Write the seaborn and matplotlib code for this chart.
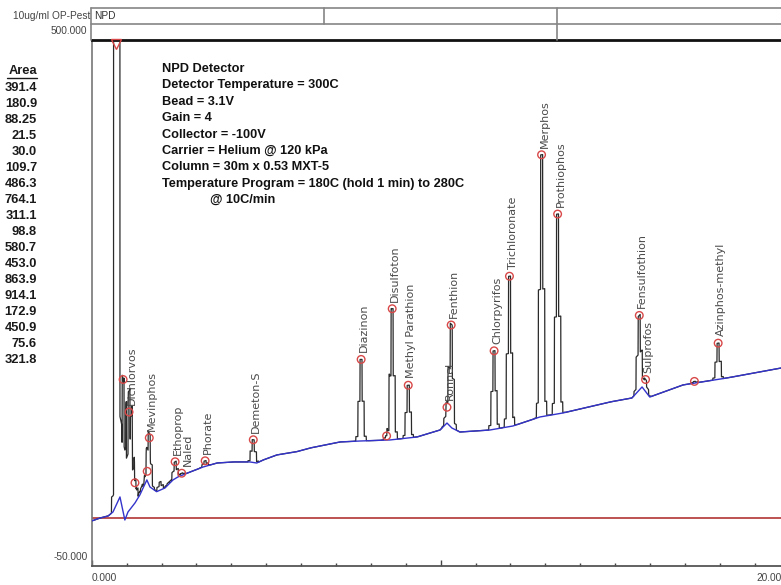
import numpy as np
import matplotlib
matplotlib.use("Agg")
import matplotlib.pyplot as plt
import matplotlib.transforms as mtransforms
import seaborn as sns
from matplotlib.lines import Line2D

# ---------------- data ----------------
# Identified compounds: retention time (min) and apex response
peak_names = ["Dichlorvos", "Mevinphos", "Ethoprop", "Naled", "Phorate", "Demeton-S",
              "Diazinon", "Disulfoton", "Methyl Parathion", "Ronnel", "Fenthion",
              "Chlorpyrifos", "Trichloronate", "Merphos", "Prothiophos",
              "Fensulfothion", "Sulprofos", "Azinphos-methyl"]
peak_times = [1.07, 1.65, 2.39, 2.58, 3.25, 4.63, 7.72, 8.61, 9.07, 10.18, 10.30,
              11.53, 11.97, 12.89, 13.35, 15.69, 15.87, 17.95]
peak_apex = [111, 84, 59, 47, 60, 82, 166, 219, 139, 116, 202,
             175, 253, 380, 318, 212, 145, 183]
peak_areas = ["391.4", "180.9", "88.25", "21.5", "30.0", "109.7", "486.3", "764.1",
              "311.1", "98.8", "580.7", "453.0", "863.9", "914.1", "172.9",
              "450.9", "75.6", "321.8"]

# Integrated but unnamed peaks
extra_times = [0.90, 1.24, 1.59, 8.45, 17.27]
extra_apex = [145, 37, 49, 86, 143]

# Small unintegrated spikes near the start
minor_times = [1.14, 1.43, 1.96, 2.19]
minor_apex = [56, 33, 38, 37]

# Solvent front (off scale)
solvent_time = 0.72
solvent_height = 6000

# Drawn baseline (time, response)
base_t = [0.00, 0.24, 0.47, 0.61, 0.81, 0.95, 1.04, 1.24, 1.38, 1.58, 1.67, 1.86,
          2.10, 2.33, 2.47, 2.82, 3.19, 3.59, 4.05, 4.53, 4.73, 4.91, 5.30, 5.87,
          6.26, 7.11, 7.69, 8.55, 9.32, 9.98, 10.18, 10.32, 10.55, 11.41, 12.07,
          12.84, 13.50, 14.85, 15.48, 15.77, 15.99, 16.94, 18.20, 19.75]
base_v = [-2.9, 0.2, 2.3, 6.5, 22.2, -1.9, 6.5, 15.9, 24.3, 40.0, 32.6, 27.7,
          31.6, 40.0, 43.1, 48.3, 53.5, 57.7, 58.8, 58.8, 57.7, 60.8, 66.1, 69.5,
          73.4, 79.7, 80.7, 81.8, 84.9, 92.2, 99.5, 94.3, 90.1, 92.2, 96.4,
          105.8, 110.0, 121.5, 125.7, 137.2, 126.7, 139.3, 146.6, 157.0]

info_lines = ["NPD Detector", "Detector Temperature = 300C", "Bead = 3.1V", "Gain = 4",
              "Collector = -100V", "Carrier = Helium @ 120 kPa",
              "Column = 30m x 0.53 MXT-5",
              "Temperature Program = 180C (hold 1 min) to 280C", "@ 10C/min"]

x_tick_labels = ["0.000", "", "20.00"]
y_range_labels = ["500.000", "-50.000"]

# ---------------- build the trace ----------------
W, H = 781, 585
STEP = 0.06      # detector sampling interval (min)
SIGMA = 0.05     # peak width (min)

t = np.arange(0.0, 19.75 + 1e-9, 0.005)
baseline = np.interp(t, base_t, base_v)
signal = baseline.copy()


def add_peak(sig, t0, amp, sigma=SIGMA):
    k = np.round((t - t0) / STEP) * STEP
    return sig + amp * np.exp(-0.5 * (k / sigma) ** 2)


for t0, ap in zip(peak_times + extra_times + minor_times,
                  peak_apex + extra_apex + minor_apex):
    signal = add_peak(signal, t0, ap - np.interp(t0, base_t, base_v))
signal = add_peak(signal, solvent_time, solvent_height, sigma=0.035)

# ---------------- figure ----------------
sns.set_theme(style="white")
plt.rcParams["font.family"] = ["Liberation Sans", "DejaVu Sans"]

fig = plt.figure(figsize=(W / 100, H / 100), dpi=100)
ax = fig.add_axes([91.7 / W, 19 / H, 698 / W, 526 / H])

ax.axhline(0, color="#b84444", lw=1.3, zorder=1)
sns.lineplot(x=t, y=signal, ax=ax, color="#2a2a2a", linewidth=0.9,
             estimator=None, sort=False, zorder=2)
sns.lineplot(x=base_t, y=base_v, ax=ax, color="#3434cc", linewidth=1.0,
             estimator=None, sort=False, zorder=3)

mark_t = peak_times + extra_times
mark_v = peak_apex + extra_apex
sns.scatterplot(x=mark_t, y=mark_v, ax=ax, s=30, marker="o", zorder=4)
coll = ax.collections[-1]
coll.set_facecolor("none")
coll.set_edgecolor("#d84848")
coll.set_linewidth(1.0)
ax.plot([solvent_time - 0.03], [496], marker="v", ms=7, mfc="none",
        mec="#d84848", mew=1.0, zorder=4, clip_on=False)

for name, t0, ap in zip(peak_names, peak_times, peak_apex):
    dx = 4.6 if name == "Naled" else 2.2
    ax.annotate(name, xy=(t0, ap), xytext=(dx, 5.0), textcoords="offset points",
                rotation=90, ha="center", va="bottom", fontsize=8.0,
                color="#4a4a4a", family=["DejaVu Sans"])

ax.set_xlim(0, 20)
ax.set_ylim(-50, 500)
ax.set_xlabel("")
ax.set_ylabel("")
ax.set_xticks([0, 10, 20])
ax.set_xticklabels(x_tick_labels)
ax.set_xticks(np.arange(0, 21, 1), minor=True)
ax.tick_params(axis="x", which="major", direction="in", length=4.5, width=1,
               color="#444444", labelsize=7.3, labelcolor="#444444", pad=5, bottom=True)
ax.tick_params(axis="x", which="minor", direction="in", length=2.2, width=1,
               color="#444444", bottom=True)
labels = ax.get_xticklabels()
labels[0].set_ha("left")
labels[-1].set_ha("right")
shift = mtransforms.ScaledTranslation(-8 / 100, 0, fig.dpi_scale_trans)
labels[-1].set_transform(labels[-1].get_transform() + shift)
ax.set_yticks([])

ax.annotate(y_range_labels[0], xy=(0, 500), xycoords=("axes fraction", "data"),
            xytext=(-3, 3), textcoords="offset points", ha="right", va="bottom",
            fontsize=7.3, color="#444444", annotation_clip=False)
ax.annotate(y_range_labels[1], xy=(0, -50), xycoords=("axes fraction", "data"),
            xytext=(-3, 3), textcoords="offset points", ha="right", va="bottom",
            fontsize=7.3, color="#444444", annotation_clip=False)

for side, col, lw in [("left", "#777777", 1.2), ("bottom", "#555555", 1.3),
                      ("top", "#111111", 2.0)]:
    ax.spines[side].set_visible(True)
    ax.spines[side].set_color(col)
    ax.spines[side].set_linewidth(lw)
ax.spines["right"].set_visible(False)


# ---------------- header strip ----------------
def fx(px):
    return px / W


def fy(py):
    return 1 - py / H


grey = "#858585"
for (x0, y0, x1, y1) in [(91, 8, 781, 8), (91, 24, 781, 24), (91, 8, 91, 40),
                         (324, 8, 324, 24), (557, 8, 557, 40)]:
    fig.add_artist(Line2D([fx(x0), fx(x1)], [fy(y0), fy(y1)], color=grey, lw=1.2))
fig.text(fx(94), fy(16), "NPD", ha="left", va="center", fontsize=7.3, color="#333333")
fig.text(fx(90), fy(16), "10ug/ml OP-Pest", ha="right", va="center", fontsize=7.3,
         color="#444444")

# ---------------- area column ----------------
fig.text(fx(37), fy(71), "Area", ha="right", va="center", fontsize=9.3,
         fontweight="bold", color="#1a1a1a")
fig.add_artist(Line2D([fx(7), fx(37)], [fy(78), fy(78)], color="#1a1a1a", lw=1.0))
for i, a in enumerate(peak_areas):
    fig.text(fx(37), fy(88 + 16 * i), a, ha="right", va="center", fontsize=9.3,
             fontweight="bold", color="#1a1a1a")

# ---------------- method text ----------------
for i, line in enumerate(info_lines):
    x0 = 210 if i == len(info_lines) - 1 else 162
    fig.text(fx(x0), fy(69 + 16.4 * i), line, ha="left", va="center", fontsize=9.2,
             fontweight="bold", color="#111111")

fig.savefig("out.png", dpi=100)
